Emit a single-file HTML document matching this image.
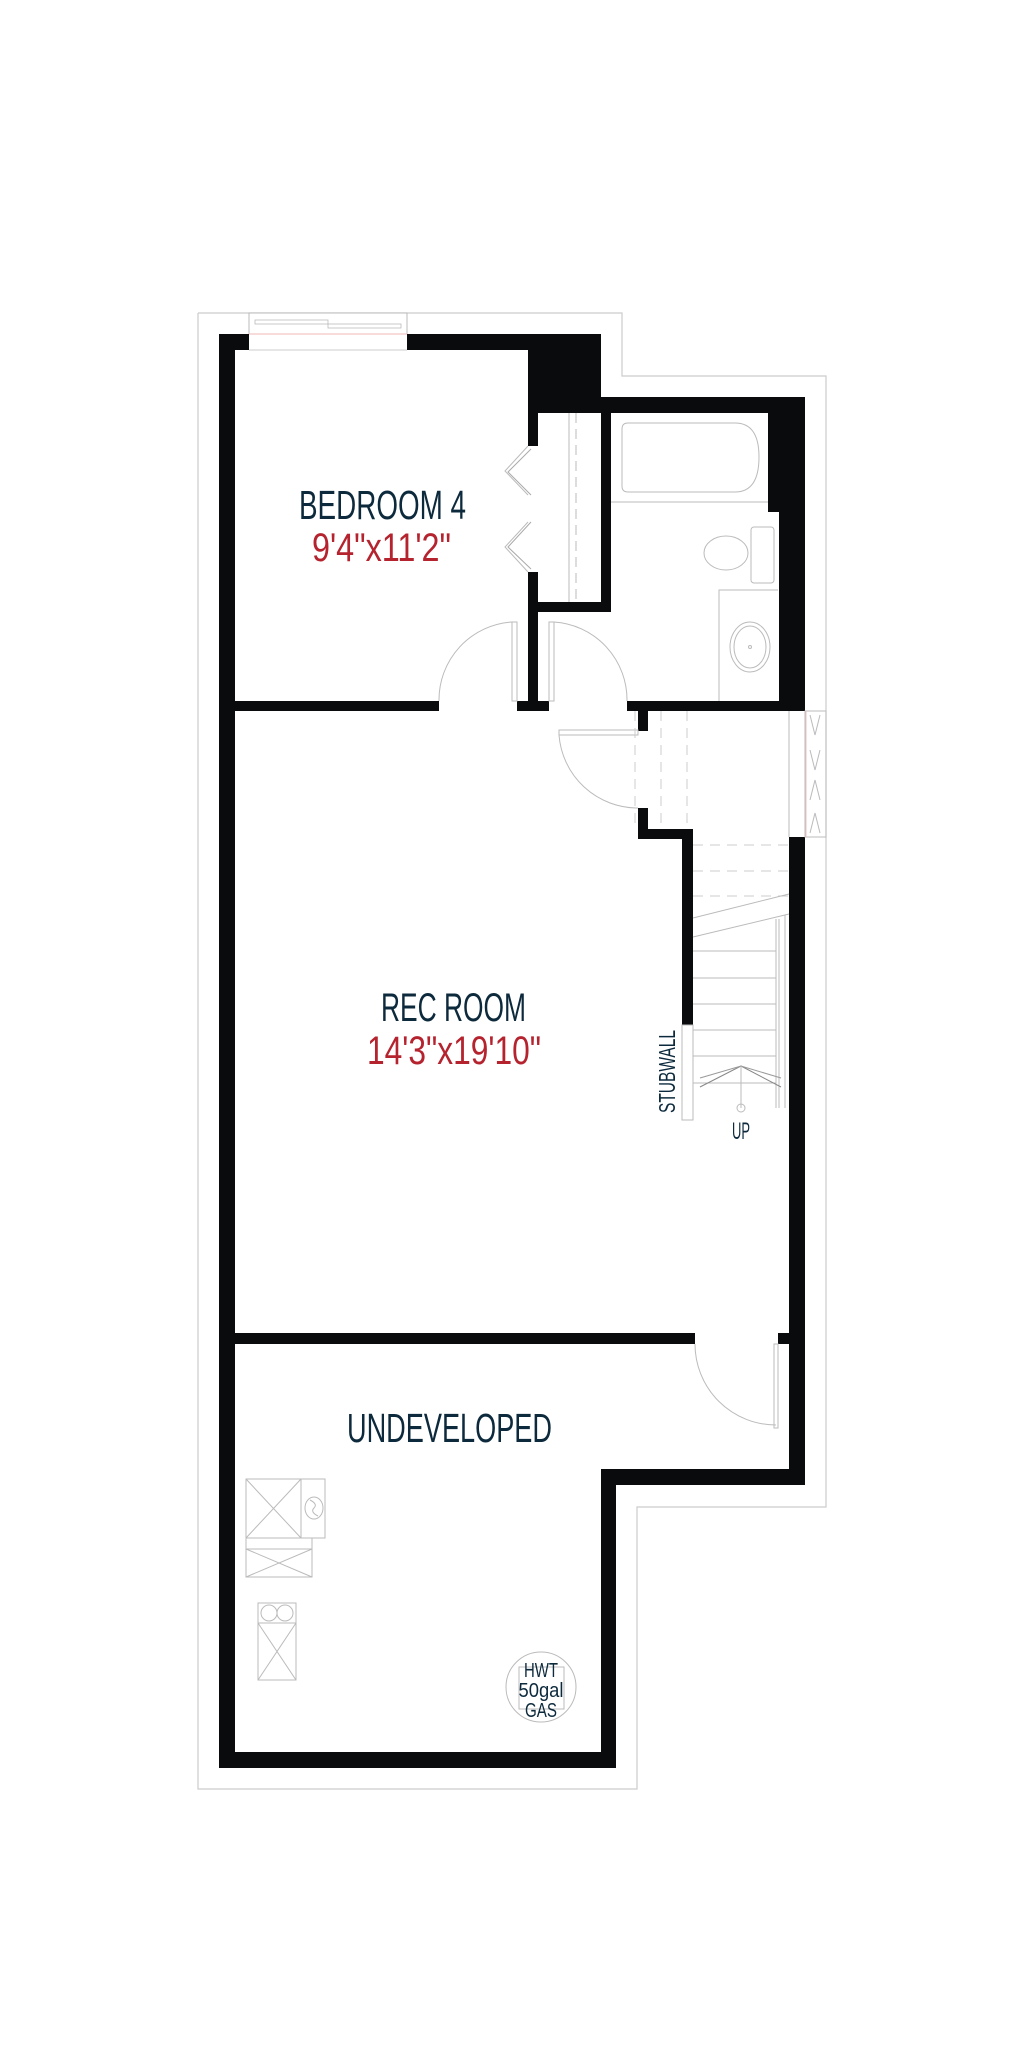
<!DOCTYPE html>
<html><head><meta charset="utf-8"><style>
html,body{margin:0;padding:0;background:#fff;}
svg{display:block;}
text{font-family:"Liberation Sans",sans-serif;}
</style></head><body>
<svg width="1024" height="2048" viewBox="0 0 1024 2048" xmlns="http://www.w3.org/2000/svg">
<rect width="1024" height="2048" fill="#fff"/>
<!-- outer thin outline -->
<polyline points="198,313 622,313 622,376 826,376 826,1507 637,1507 637,1789 198,1789 198,313" fill="none" stroke="#ccc" stroke-width="1.2"/>
<!-- top window -->
<rect x="249" y="313" width="158" height="21" fill="#fff" stroke="#bbb" stroke-width="1"/>
<rect x="255" y="320" width="73" height="4" fill="none" stroke="#bbb" stroke-width="0.8"/>
<rect x="328" y="324" width="73" height="4" fill="none" stroke="#bbb" stroke-width="0.8"/>
<line x1="249" y1="334" x2="407" y2="334" stroke="#f2b8b8" stroke-width="1"/>
<line x1="249" y1="350" x2="407" y2="350" stroke="#ccc" stroke-width="1"/>
<g fill="#0a0b0d">
<!-- left wall -->
<rect x="219" y="334" width="16" height="1434"/>
<!-- top wall -->
<rect x="219" y="334" width="30" height="16"/>
<rect x="407" y="334" width="194" height="16"/>
<!-- chimney block -->
<rect x="528" y="334" width="73" height="79"/>
<rect x="601" y="397" width="204" height="16"/>
<!-- bedroom right wall -->
<rect x="528" y="350" width="10" height="96"/>
<rect x="528" y="572" width="10" height="139"/>
<!-- closet -->
<rect x="601" y="403" width="10" height="209"/>
<rect x="538" y="602" width="73" height="10"/>
<!-- bath right wall -->
<rect x="768" y="403" width="37" height="109"/>
<rect x="779" y="512" width="26" height="199"/>
<!-- divider bedroom/rec -->
<rect x="219" y="701" width="220" height="10"/>
<rect x="517" y="701" width="32" height="10"/>
<rect x="627" y="701" width="178" height="10"/>
<!-- small walls at stairs -->
<rect x="638" y="711" width="10" height="20"/>
<rect x="638" y="808" width="10" height="31"/>
<rect x="638" y="829" width="55" height="10"/>
<rect x="682" y="829" width="11" height="196"/>
<!-- right wall -->
<rect x="789" y="837" width="16" height="648"/>
<!-- undeveloped divider -->
<rect x="219" y="1333" width="476" height="11"/>
<rect x="778" y="1333" width="11" height="11"/>
<!-- step -->
<rect x="601" y="1469" width="204" height="16"/>
<rect x="601" y="1469" width="15" height="299"/>
<rect x="219" y="1752" width="397" height="16"/>
</g>
<g fill="none" stroke="#bbb" stroke-width="1">
<!-- stubwall -->
<rect x="682" y="1025" width="11" height="95" fill="#fff"/>
<!-- bifold doors -->
<polyline points="528,446 505,471 528,495"/>
<polyline points="531,449 508,472 531,495" stroke="#aaa"/>
<polyline points="528,522 505,547 528,572"/>
<polyline points="531,522 508,547 531,569" stroke="#aaa"/>
<!-- closet rod -->
<line x1="569" y1="413" x2="569" y2="602"/>
<line x1="576" y1="413" x2="576" y2="602" stroke-dasharray="10,6"/>
<!-- bathtub -->
<path d="M628,423 H735 Q759,423 759,457 Q759,492 735,492 H628 Q622,492 622,486 V429 Q622,423 628,423 Z"/>
<line x1="611" y1="502" x2="768" y2="502"/>
<!-- toilet -->
<ellipse cx="726" cy="553" rx="22" ry="17"/>
<rect x="751" y="527" width="23" height="56" rx="3"/>
<!-- vanity -->
<polyline points="778,590 719,590 719,701"/>
<ellipse cx="750" cy="647" rx="20" ry="25"/>
<ellipse cx="750" cy="647" rx="16" ry="21"/>
<circle cx="750" cy="647" r="1.5"/>
<!-- bedroom door -->
<rect x="512" y="622" width="5" height="79"/>
<path d="M439,701 A78,78 0 0 1 512,622"/>
<!-- bath door -->
<rect x="549" y="622" width="5" height="79"/>
<path d="M627,701 A78,78 0 0 0 554,622"/>
<!-- door under -->
<rect x="559" y="730" width="79" height="5"/>
<path d="M559,735 A79,79 0 0 0 638,808"/>
<!-- landing dashed -->
<g stroke-dasharray="10,7" stroke="#ccc">
<line x1="635" y1="711" x2="635" y2="829"/>
<line x1="661" y1="711" x2="661" y2="829"/>
<line x1="687" y1="711" x2="687" y2="829"/>
<line x1="693" y1="845" x2="789" y2="845"/>
<line x1="693" y1="871" x2="789" y2="871"/>
<line x1="693" y1="896" x2="789" y2="896"/>
</g>
<!-- stairs -->
<line x1="693" y1="918" x2="789" y2="894"/>
<line x1="693" y1="937" x2="789" y2="914"/>
<line x1="693" y1="951" x2="776" y2="951"/>
<line x1="693" y1="978" x2="776" y2="978"/>
<line x1="693" y1="1004" x2="776" y2="1004"/>
<line x1="693" y1="1030" x2="776" y2="1030"/>
<line x1="693" y1="1056" x2="776" y2="1056"/>
<line x1="693" y1="1083" x2="776" y2="1083"/>
<line x1="776" y1="919" x2="776" y2="1108"/>
<line x1="779" y1="919" x2="779" y2="1108"/>
<line x1="785" y1="915" x2="785" y2="1108"/>
<polyline points="700,1087 741,1066 781,1087" stroke="#888"/>
<polyline points="700,1078 741,1066 781,1078" stroke="#999"/>
<line x1="741" y1="1066" x2="741" y2="1108"/>
<circle cx="741" cy="1108" r="4"/>
<!-- right window -->
<rect x="805" y="711" width="21" height="126"/>
<line x1="789" y1="711" x2="789" y2="837"/>
<line x1="806" y1="711" x2="806" y2="837" stroke="#f3c0c0"/>
<polyline points="810,715 815,735 820,715"/>
<polyline points="810,750 815,770 820,750"/>
<polyline points="810,800 815,780 820,800"/>
<polyline points="810,833 815,813 820,833"/>
<!-- undeveloped door -->
<rect x="774" y="1344" width="4" height="84"/>
<path d="M695,1344 A81,81 0 0 0 776,1425"/>
<!-- furnace etc -->
<rect x="246" y="1479" width="55" height="59"/>
<line x1="246" y1="1479" x2="301" y2="1538"/>
<line x1="301" y1="1479" x2="246" y2="1538"/>
<rect x="301" y="1479" width="24" height="59"/>
<ellipse cx="314" cy="1508" rx="9" ry="11"/>
<path d="M310,1500 Q318,1504 314,1508 Q310,1512 318,1516"/>
<rect x="246" y="1538" width="66" height="39"/>
<line x1="246" y1="1549" x2="312" y2="1549"/>
<line x1="246" y1="1549" x2="312" y2="1577"/>
<line x1="312" y1="1549" x2="246" y2="1577"/>
<rect x="258" y="1603" width="38" height="77"/>
<circle cx="269" cy="1613" r="8"/>
<circle cx="285" cy="1613" r="8"/>
<line x1="258" y1="1623" x2="296" y2="1623"/>
<line x1="258" y1="1623" x2="296" y2="1680"/>
<line x1="296" y1="1623" x2="258" y2="1680"/>
<!-- HWT -->
<circle cx="541" cy="1687" r="35"/>
<rect x="519" y="1667" width="45" height="42"/>
</g>
<!-- labels -->
<g fill="#0d2a3d">
<text x="299" y="519" font-size="41" textLength="167" lengthAdjust="spacingAndGlyphs">BEDROOM 4</text>
<text x="381" y="1021" font-size="40" textLength="145" lengthAdjust="spacingAndGlyphs">REC ROOM</text>
<text x="347" y="1442" font-size="41" textLength="205" lengthAdjust="spacingAndGlyphs">UNDEVELOPED</text>
<text x="732" y="1139" font-size="24" textLength="18" lengthAdjust="spacingAndGlyphs">UP</text>
<text transform="translate(675,1113) rotate(-90)" font-size="23" textLength="83" lengthAdjust="spacingAndGlyphs">STUBWALL</text>
<text x="541" y="1677" font-size="20" text-anchor="middle" textLength="34" lengthAdjust="spacingAndGlyphs">HWT</text>
<text x="541" y="1697" font-size="20" text-anchor="middle" textLength="45" lengthAdjust="spacingAndGlyphs">50gal</text>
<text x="541" y="1717" font-size="20" text-anchor="middle" textLength="32" lengthAdjust="spacingAndGlyphs">GAS</text>
</g>
<g fill="#b5232f">
<text x="312" y="561" font-size="40" textLength="139" lengthAdjust="spacingAndGlyphs">9'4"x11'2"</text>
<text x="367" y="1064" font-size="40" textLength="174" lengthAdjust="spacingAndGlyphs">14'3"x19'10"</text>
</g>
</svg>
</body></html>
